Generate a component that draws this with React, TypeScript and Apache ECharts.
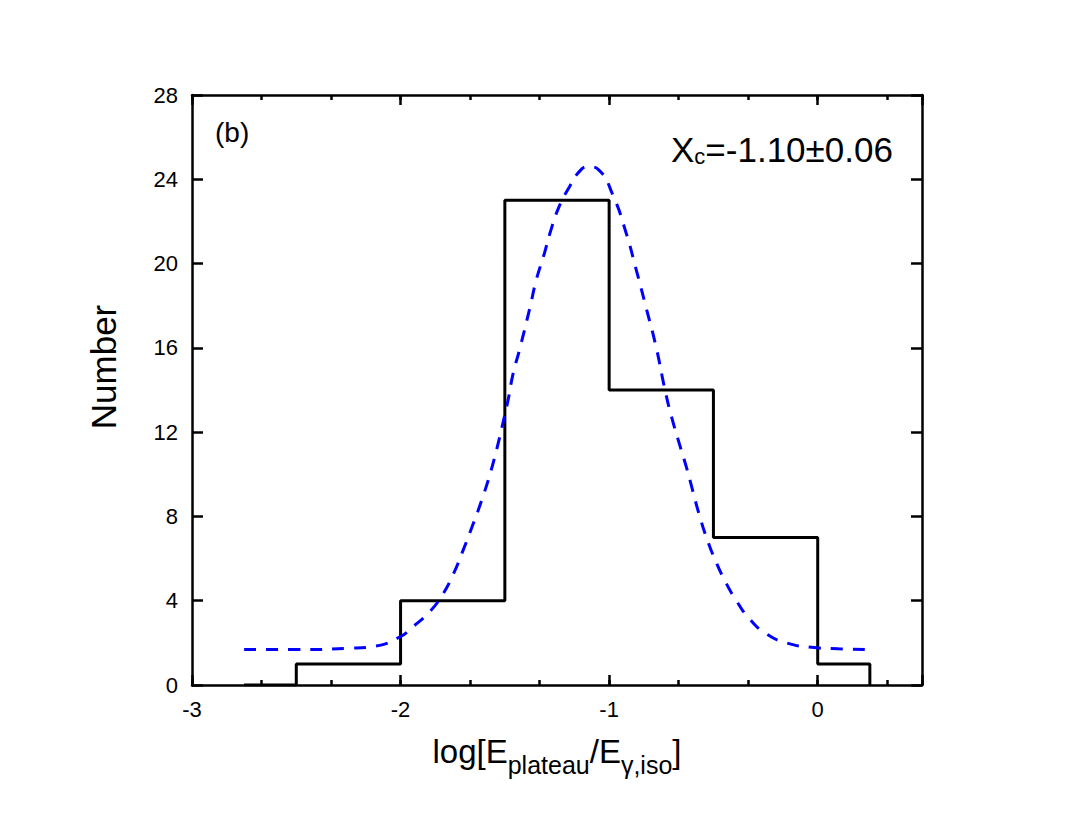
import React, { useEffect, useRef } from "react";
import * as echarts from "echarts";

// Histogram: bin left edges (last value = right edge of last bin) and counts
const binEdges = [-2.75, -2.5, -2, -1.5, -1, -0.5, 0, 0.25];
const binCounts = [0, 1, 4, 23, 14, 7, 1];

// Gaussian fit curve
const fitX = [
  -2.75, -2.5, -2.25, -2.12, -2.0, -1.94, -1.86, -1.8, -1.75, -1.7, -1.65, -1.61,
  -1.57, -1.54, -1.51, -1.485, -1.46, -1.43, -1.38, -1.35, -1.31, -1.285, -1.24,
  -1.19, -1.14, -1.1, -1.05, -0.98, -0.92, -0.87, -0.82, -0.775, -0.73, -0.7,
  -0.665, -0.63, -0.6, -0.57, -0.53, -0.49, -0.44, -0.39, -0.33, -0.25, -0.15,
  -0.03, 0.1, 0.25,
];
const fitY = [
  1.68, 1.68, 1.74, 1.85, 2.3, 2.77, 3.48, 4.27, 5.2, 6.4, 7.7, 8.8, 10.05, 11.15,
  12.4, 13.5, 14.8, 15.9, 17.9, 19.2, 20.5, 21.4, 22.7, 23.65, 24.4, 24.6, 24.45,
  23.2, 21.5, 19.7, 17.8, 16.05, 13.9, 12.7, 11.5, 10.35, 9.25, 8.15, 6.9, 5.9,
  4.85, 4.0, 3.17, 2.45, 2.0, 1.79, 1.72, 1.68,
];

const xMin = -3;
const xMax = 0.5;
const xMajor = 1;
const xMinor = 1 / 3;
const yMin = 0;
const yMax = 28;
const yMajor = 4;

const FONT = "'Liberation Sans', Arial, Helvetica, sans-serif";

export default function App() {
  const ref = useRef<HTMLDivElement>(null);

  useEffect(() => {
    if (!ref.current) return;
    const chart = echarts.init(ref.current, undefined, { renderer: "svg" });

    const histPoints: number[][] = [[binEdges[0], 0]];
    for (let i = 0; i < binCounts.length; i++) {
      histPoints.push([binEdges[i], binCounts[i]]);
      histPoints.push([binEdges[i + 1], binCounts[i]]);
    }
    histPoints.push([binEdges[binEdges.length - 1], 0]);

    const fitPoints = fitX.map((x, i) => [x, fitY[i]]);

    const gridRect = { left: 192, top: 95, width: 730, height: 590 };
    const axisLine = { show: true, onZero: false, lineStyle: { color: "#000", width: 2.5 } };

    const majorX = (gridIndex: number, position: string, labels: boolean, extra: any = {}) => ({
      type: "value",
      gridIndex,
      position,
      min: xMin,
      max: xMax,
      interval: xMajor,
      axisLine,
      axisTick: { show: true, inside: true, length: 10, lineStyle: { color: "#000", width: 2.5 } },
      axisLabel: {
        show: labels,
        fontSize: 22,
        fontFamily: FONT,
        color: "#000",
        margin: 13,
        formatter: (v: number) => (Number.isInteger(v) ? String(v) : ""),
      },
      splitLine: { show: false },
      ...extra,
    });

    const minorX = (position: string) => ({
      type: "value",
      gridIndex: 1,
      position,
      min: xMin,
      max: xMax,
      interval: xMinor,
      axisLine: { show: false, onZero: false },
      axisTick: { show: true, inside: true, length: 5, lineStyle: { color: "#000", width: 2.5 } },
      axisLabel: { show: false },
      splitLine: { show: false },
    });

    const majorY = (position: string, labels: boolean) => ({
      type: "value",
      gridIndex: 0,
      position,
      min: yMin,
      max: yMax,
      interval: yMajor,
      axisLine,
      axisTick: { show: true, inside: true, length: 11, lineStyle: { color: "#000", width: 2.5 } },
      axisLabel: {
        show: labels,
        fontSize: 22,
        fontFamily: FONT,
        color: "#000",
        margin: 14,
      },
      splitLine: { show: false },
    });

    chart.setOption({
      animation: false,
      backgroundColor: "#fff",
      grid: [
        { ...gridRect, containLabel: false },
        { ...gridRect, containLabel: false },
      ],
      xAxis: [
        majorX(0, "bottom", true, {
          name: "{n|log[E}{s|plateau}{n|/E}{s|γ,iso}{n|]}",
          nameLocation: "middle",
          nameGap: 50,
          nameTextStyle: {
            rich: {
              n: { fontSize: 33, fontFamily: FONT, color: "#000", verticalAlign: "top" },
              s: { fontSize: 25, fontFamily: FONT, color: "#000", verticalAlign: "top", padding: [17, 0, 0, 0] },
            },
          },
        }),
        majorX(0, "top", false),
        minorX("bottom"),
        minorX("top"),
      ],
      yAxis: [
        majorY("left", true),
        majorY("right", false),
        { type: "value", gridIndex: 1, min: yMin, max: yMax, show: false },
      ],
      graphic: [
        {
          type: "text",
          x: 215,
          y: 132,
          style: { text: "(b)", fontSize: 28, fontFamily: FONT, fill: "#000", verticalAlign: "middle" },
        },
        {
          type: "text",
          x: 671,
          y: 146,
          style: {
            text: "{a|X}{b|c}{a|=-1.10±0.06}",
            fill: "#000",
            verticalAlign: "middle",
            rich: {
              a: { fontSize: 35, fontFamily: FONT, fill: "#000", lineHeight: 42, verticalAlign: "bottom" },
              b: { fontSize: 22, fontFamily: FONT, fill: "#000", lineHeight: 16, verticalAlign: "bottom" },
            },
          },
        },
        {
          type: "text",
          x: 103,
          y: 367,
          rotation: Math.PI / 2,
          style: {
            text: "Number",
            fontSize: 35,
            fontFamily: FONT,
            fill: "#000",
            align: "center",
            verticalAlign: "middle",
          },
        },
      ],
      series: [
        {
          type: "line",
          xAxisIndex: 0,
          yAxisIndex: 0,
          data: histPoints,
          symbol: "none",
          lineStyle: { color: "#000", width: 3 },
          z: 2,
        },
        {
          type: "line",
          xAxisIndex: 0,
          yAxisIndex: 0,
          data: fitPoints,
          smooth: true,
          symbol: "none",
          lineStyle: { color: "#0000ff", width: 3, type: [12, 10] },
          z: 3,
        },
      ],
    });

    return () => chart.dispose();
  }, []);

  return (
    <div
      ref={ref}
      style={{ position: "fixed", left: 0, top: 0, width: 1072, height: 821 }}
    />
  );
}
